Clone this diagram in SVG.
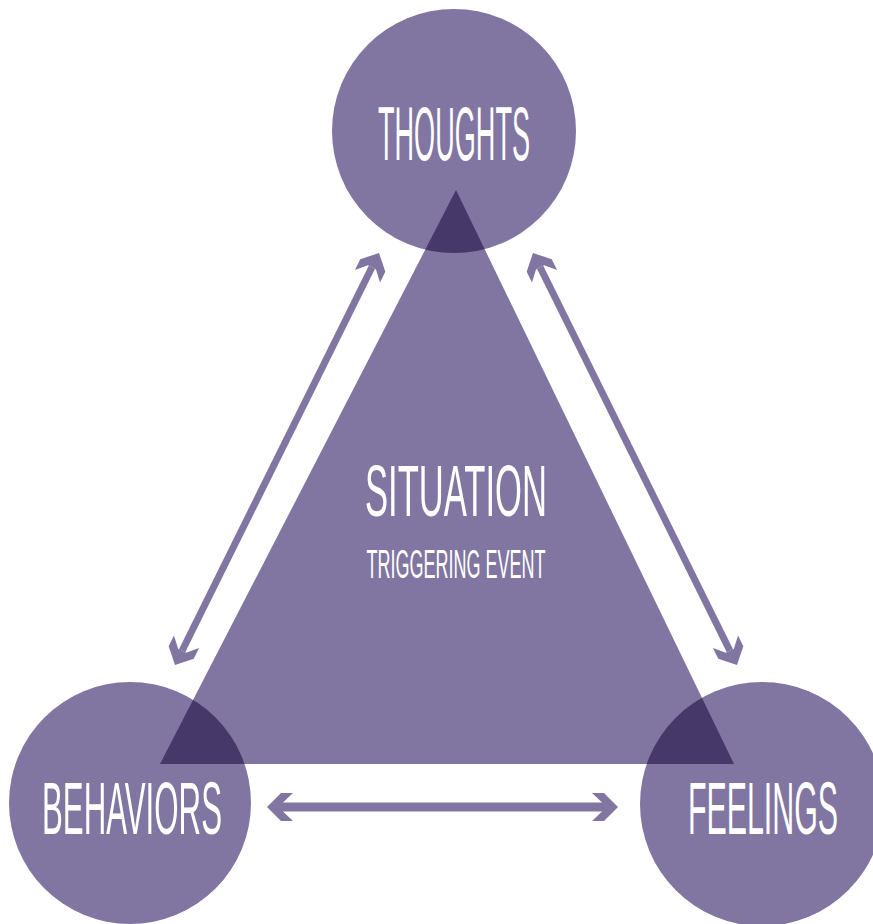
<svg xmlns="http://www.w3.org/2000/svg" width="873" height="924" viewBox="0 0 873 924">
  <style>
    .shape { fill: #8176a1; }
    .overlap { fill: #463868; }
    .link { stroke: #8176a1; fill: none; stroke-linecap: butt; }
    .label { fill: #ffffff; font-family: "Liberation Sans Narrow", "Liberation Sans", "DejaVu Sans", sans-serif; text-anchor: middle; }
  </style>
  <defs>
    <marker id="head" markerUnits="userSpaceOnUse" viewBox="-12 -16 30 32" markerWidth="30" markerHeight="32" refX="0" refY="0" orient="auto-start-reverse">
      <polygon points="16,0 2,-14 -10,-14 0,-4.5 0,4.5 -10,14 2,14" fill="#8176a1"/>
    </marker>
    <path id="tri" d="M456,190 L734,764 L160,764 Z"/>
    <clipPath id="clipThoughts"><circle cx="454" cy="131" r="122"/></clipPath>
    <clipPath id="clipBehaviors"><circle cx="130" cy="803" r="121"/></clipPath>
    <clipPath id="clipFeelings"><circle cx="762" cy="804" r="122"/></clipPath>
  </defs>

  <!-- central situation triangle -->
  <g id="situation">
    <use href="#tri" class="shape"/>
    <text class="label" x="456" y="516" font-size="72" textLength="182" lengthAdjust="spacingAndGlyphs">SITUATION</text>
    <text class="label" x="456" y="578" font-size="41" textLength="179" lengthAdjust="spacingAndGlyphs">TRIGGERING EVENT</text>
  </g>

  <g id="thoughts">
    <circle class="shape" cx="454" cy="131" r="122"/>
    <use href="#tri" class="overlap" clip-path="url(#clipThoughts)"/>
    <text class="label" x="454" y="160" font-size="76" textLength="152" lengthAdjust="spacingAndGlyphs">THOUGHTS</text>
  </g>

  <g id="behaviors">
    <circle class="shape" cx="130" cy="803" r="121"/>
    <use href="#tri" class="overlap" clip-path="url(#clipBehaviors)"/>
    <text class="label" x="132" y="834" font-size="74" textLength="180" lengthAdjust="spacingAndGlyphs">BEHAVIORS</text>
  </g>

  <g id="feelings">
    <circle class="shape" cx="762" cy="804" r="122"/>
    <use href="#tri" class="overlap" clip-path="url(#clipFeelings)"/>
    <text class="label" x="763" y="834" font-size="74" textLength="150" lengthAdjust="spacingAndGlyphs">FEELINGS</text>
  </g>

  <!-- two-way connectors -->
  <g id="connectors">
    <line class="link" x1="371.9" y1="267.3" x2="182.1" y2="650.7" stroke-width="7" marker-start="url(#head)" marker-end="url(#head)"/>
    <line class="link" x1="540.1" y1="267.3" x2="729.9" y2="650.7" stroke-width="7" marker-start="url(#head)" marker-end="url(#head)"/>
    <line class="link" x1="283" y1="807" x2="602" y2="807" stroke-width="9" marker-start="url(#head)" marker-end="url(#head)"/>
  </g>
</svg>
